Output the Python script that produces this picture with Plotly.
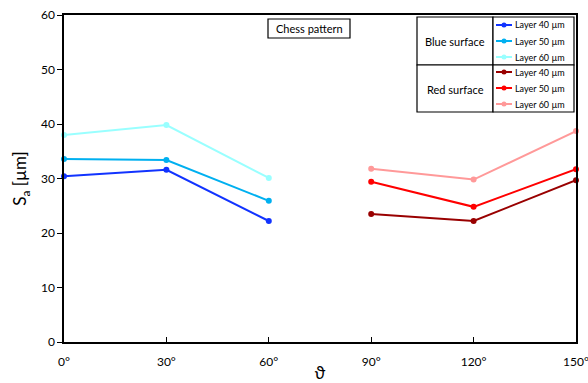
import plotly.graph_objects as go

angles_blue = [0, 30, 60]
angles_red = [90, 120, 150]
blue_40 = [30.4, 31.6, 22.2]
blue_50 = [33.6, 33.4, 25.9]
blue_60 = [38.0, 39.8, 30.1]
red_40 = [23.5, 22.2, 29.7]
red_50 = [29.4, 24.8, 31.7]
red_60 = [31.8, 29.8, 38.7]
x_ticks = [0, 30, 60, 90, 120, 150]
x_tick_labels = ["0°", "30°", "60°", "90°", "120°", "150°"]
y_ticks = [0, 10, 20, 30, 40, 50, 60]

series = [
    ("Layer 40 µm", angles_blue, blue_40, "#1133FF"),
    ("Layer 50 µm", angles_blue, blue_50, "#00B0F0"),
    ("Layer 60 µm", angles_blue, blue_60, "#99FFFF"),
    ("Layer 40 µm", angles_red, red_40, "#990000"),
    ("Layer 50 µm", angles_red, red_50, "#FF0000"),
    ("Layer 60 µm", angles_red, red_60, "#FF9999"),
]

W, H = 588, 383
ML, MR, MT, MB = 64, 12, 15, 41
PW, PH = W - ML - MR, H - MT - MB

def px(x):
    return (x - ML) / PW

def py(y):
    return 1 - (y - MT) / PH

FONT = "Lato"
fig = go.Figure()
for name, xs, ys, col in series:
    fig.add_trace(go.Scatter(x=xs, y=ys, mode="lines+markers", name=name,
                             line=dict(color=col, width=2),
                             marker=dict(color=col, size=6),
                             cliponaxis=False, showlegend=False))

shapes = []
annotations = []
# legend table
L, D, R = 417, 493, 574
T, Mid, B = 17, 65, 112
for (x0, y0, x1, y1) in [(L, T, D, Mid), (D, T, R, Mid), (L, Mid, D, B), (D, Mid, R, B)]:
    shapes.append(dict(type="rect", xref="paper", yref="paper",
                       x0=px(x0), x1=px(x1), y0=py(y1), y1=py(y0),
                       line=dict(color="black", width=1.2), fillcolor="white", layer="below"))
annotations.append(dict(text="Blue surface", xref="paper", yref="paper", x=px((L + D) / 2), y=py(42),
                        xanchor="center", yanchor="middle",
                        showarrow=False, font=dict(size=11, family=FONT, color="black")))
annotations.append(dict(text="Red surface", xref="paper", yref="paper", x=px((L + D) / 2), y=py(89),
                        xanchor="center", yanchor="middle",
                        showarrow=False, font=dict(size=11, family=FONT, color="black")))
rows = [25, 41, 57, 72, 88, 104]
for (name, xs, ys, col), ry in zip(series, rows):
    shapes.append(dict(type="line", xref="paper", yref="paper", x0=px(496), x1=px(512),
                       y0=py(ry), y1=py(ry), line=dict(color=col, width=2), layer="above"))
    shapes.append(dict(type="circle", xref="paper", yref="paper", x0=px(501.5), x1=px(506.5),
                       y0=py(ry + 2.5), y1=py(ry - 2.5), line=dict(color=col, width=0),
                       fillcolor=col, layer="above"))
    annotations.append(dict(text=name, xref="paper", yref="paper", x=px(513), y=py(ry),
                            xanchor="left", yanchor="middle", showarrow=False,
                            font=dict(size=9, family=FONT, color="black")))
# Chess pattern box
shapes.append(dict(type="rect", xref="paper", yref="paper", x0=px(268), x1=px(350),
                   y0=py(38), y1=py(19), line=dict(color="black", width=1.2), fillcolor="white",
                   layer="below"))
annotations.append(dict(text="Chess pattern", xref="paper", yref="paper", x=px(309), y=py(28.5),
                        xanchor="center", yanchor="middle",
                        showarrow=False, font=dict(size=11, family=FONT, color="black")))

fig.update_layout(
    width=W, height=H,
    margin=dict(l=ML, r=MR, t=MT, b=MB, autoexpand=False),
    plot_bgcolor="white", paper_bgcolor="white",
    font=dict(family=FONT, size=12, color="black"),
    shapes=shapes, annotations=annotations,
    xaxis=dict(range=[0, 150], tickvals=x_ticks, ticktext=x_tick_labels, automargin=False,
               ticklabeloverflow="allow", ticklabelstandoff=8,
               showgrid=False, zeroline=False, showline=True, linecolor="black", linewidth=1.5,
               mirror=True, ticks="inside", ticklen=5, tickcolor="black",
               title=dict(text="ϑ", font=dict(size=17, family=FONT), standoff=4)),
    yaxis=dict(range=[0, 60], tickvals=y_ticks, automargin=False,
               showgrid=False, zeroline=False, showline=True, linecolor="black", linewidth=1.5,
               mirror=True, ticks="outside", ticklen=5, tickcolor="black",
               title=dict(text="S<sub>a</sub> [µm]", font=dict(size=17, family=FONT), standoff=10)),
)
fig.write_html("out.html", post_script="document.body.style.margin='0';",
               config={"displayModeBar": False})
